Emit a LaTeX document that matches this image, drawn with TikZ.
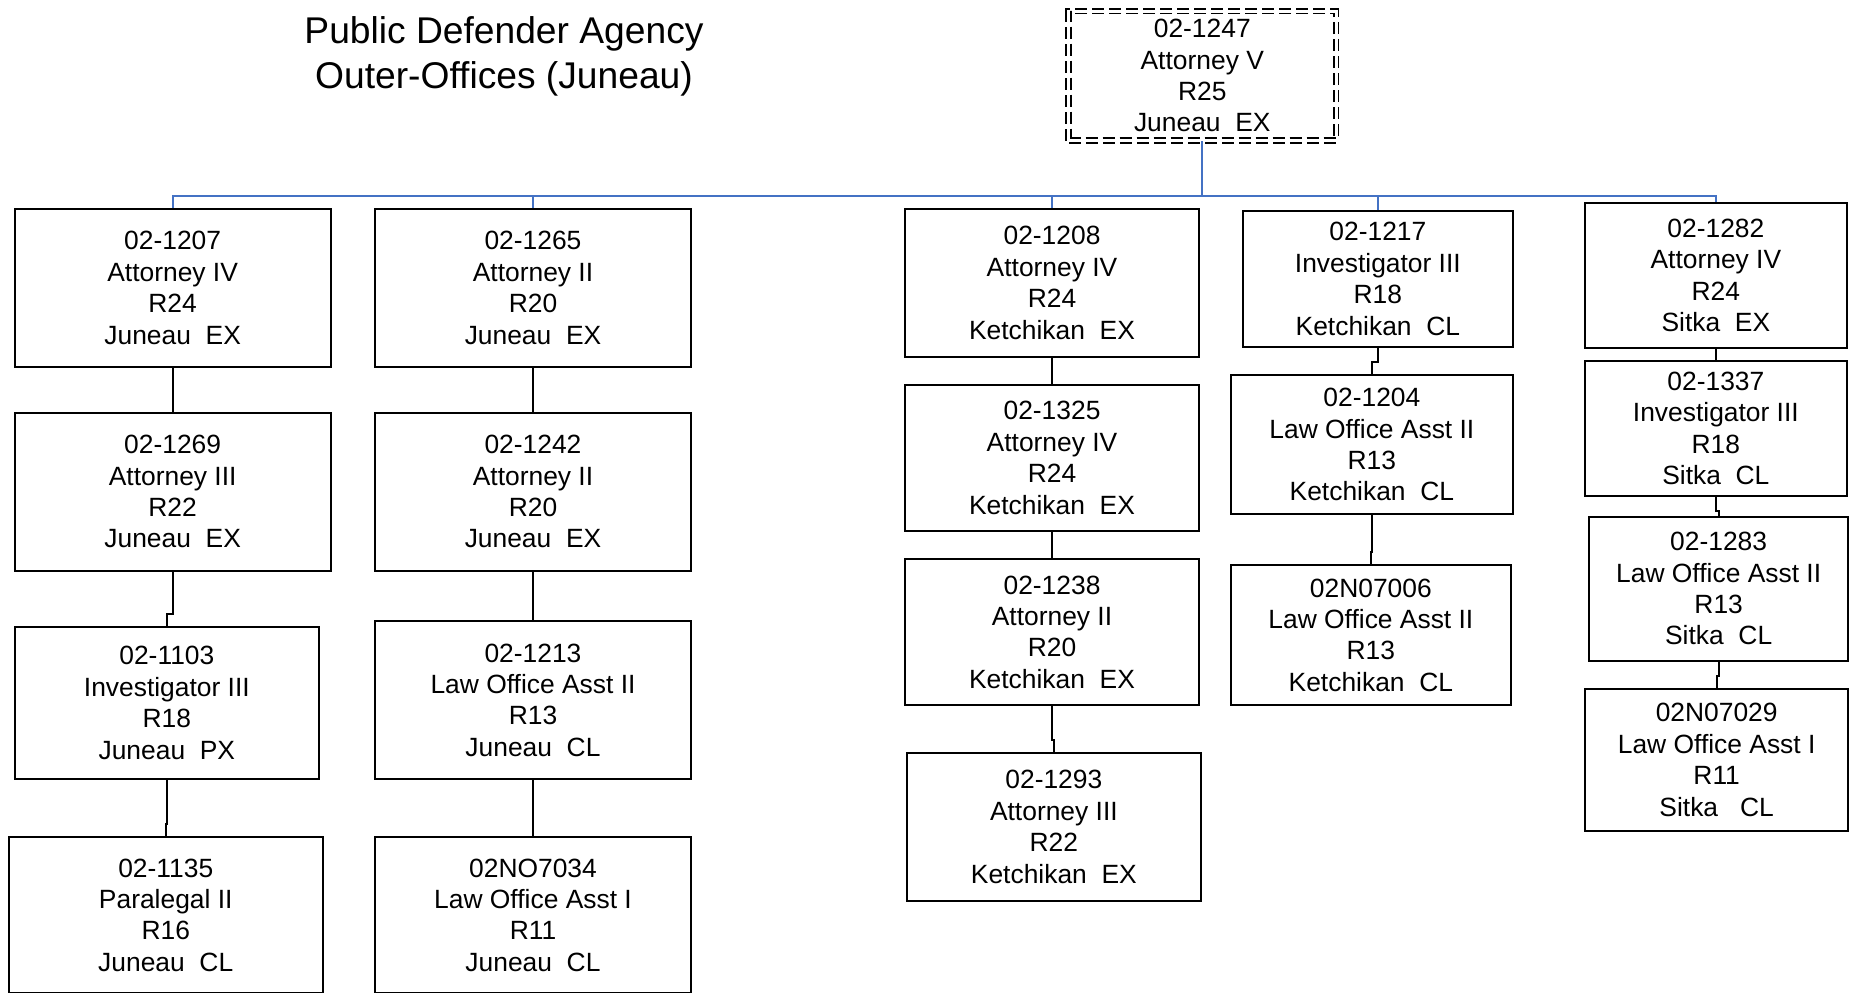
\documentclass[tikz,border=0pt]{standalone}
\usepackage{fontspec}
\setmainfont{Liberation Sans}
\usetikzlibrary{calc}
\definecolor{busblue}{RGB}{68,114,196}
\tikzset{
  posbox/.style={draw=black, line width=1pt, inner sep=0pt, align=center,
    font=\fontsize{13.2}{15.7}\selectfont},
  topbox/.style={draw=black, line width=0.8pt, double, double distance=1.5pt,
    dash pattern=on 6pt off 2.5pt, inner sep=0pt, align=center,
    font=\fontsize{13.2}{15.7}\selectfont},
  link/.style={draw=black, line width=1pt},
  buslink/.style={draw=busblue, line width=1pt},
  titlestyle/.style={align=center, inner sep=0pt,
    font=\fontsize{18.6}{22.4}\selectfont}
}
\newcommand{\pbox}[6]{% name, cx, cy, w, h, text
  \node[posbox, minimum width=#4*0.5pt, minimum height=#5*0.5pt] (#1) at (#2,#3) {#6};}
\newcommand{\jog}[2]{\draw[link] (#1.south) |- ($(#2.north)+(0,-12)$) -- (#2.north);}
\begin{document}
\begin{tikzpicture}[x=0.5pt, y=-0.5pt]
\useasboundingbox (0,0) rectangle (1850,992);
\fill[white] (0,0) rectangle (1850,992);

\node[titlestyle] (title) at (504,56) {Public Defender Agency\\Outer-Offices (Juneau)};

\node[topbox, minimum width=267.5*0.5pt, minimum height=129.5*0.5pt] (n1247) at (1202.25,75.75)
  {02-1247\\Attorney V\\R25\\Juneau\ \ EX};

% column 1
\pbox{n1207}{172.65}{288}{316}{158}{02-1207\\Attorney IV\\R24\\Juneau\ \ EX}
\pbox{n1269}{172.65}{491.7}{316}{158}{02-1269\\Attorney III\\R22\\Juneau\ \ EX}
\pbox{n1103}{166.85}{702.85}{304.3}{152.3}{02-1103\\Investigator III\\R18\\Juneau\ \ PX}
\pbox{n1135}{165.75}{915}{314}{156.6}{02-1135\\Paralegal II\\R16\\Juneau\ \ CL}
% column 2
\pbox{n1265}{533}{288}{316}{158}{02-1265\\Attorney II\\R20\\Juneau\ \ EX}
\pbox{n1242}{533}{491.7}{316}{158}{02-1242\\Attorney II\\R20\\Juneau\ \ EX}
\pbox{n1213}{533}{700}{316}{158}{02-1213\\Law Office Asst II\\R13\\Juneau\ \ CL}
\pbox{n7034}{533}{915}{316}{156.6}{02NO7034\\Law Office Asst I\\R11\\Juneau\ \ CL}
% column 3
\pbox{n1208}{1052}{282.85}{294}{147.7}{02-1208\\Attorney IV\\R24\\Ketchikan\ \ EX}
\pbox{n1325}{1052}{457.85}{294}{145.7}{02-1325\\Attorney IV\\R24\\Ketchikan\ \ EX}
\pbox{n1238}{1052}{632}{294}{146}{02-1238\\Attorney II\\R20\\Ketchikan\ \ EX}
\pbox{n1293}{1053.85}{826.85}{294.3}{148.3}{02-1293\\Attorney III\\R22\\Ketchikan\ \ EX}
% column 4
\pbox{n1217}{1377.85}{278.85}{270.3}{135.7}{02-1217\\Investigator III\\R18\\Ketchikan\ \ CL}
\pbox{n1204}{1371.85}{444.65}{282.3}{139.3}{02-1204\\Law Office Asst II\\R13\\Ketchikan\ \ CL}
\pbox{n7006}{1370.85}{635}{280.3}{140}{02N07006\\Law Office Asst II\\R13\\Ketchikan\ \ CL}
% column 5
\pbox{n1282}{1715.85}{275.5}{261.7}{144.4}{02-1282\\Attorney IV\\R24\\Sitka\ \ EX}
\pbox{n1337}{1715.85}{428.5}{261.7}{135}{02-1337\\Investigator III\\R18\\Sitka\ \ CL}
\pbox{n1283}{1718.65}{588.7}{259.3}{144}{02-1283\\Law Office Asst II\\R13\\Sitka\ \ CL}
\pbox{n7029}{1716.65}{759.85}{263.3}{141.7}{02N07029\\Law Office Asst I\\R11\\Sitka\ \ \ CL}

% bus
\coordinate (bus) at (1202.25,196);
\draw[buslink] (n1247.south) -- (bus);
\draw[buslink] (n1207.north) |- (bus) -| (n1282.north);
\draw[buslink] (n1265.north) -- (n1265.north |- bus);
\draw[buslink] (n1208.north) -- (n1208.north |- bus);
\draw[buslink] (n1217.north) -- (n1217.north |- bus);

% column links
\jog{n1207}{n1269}
\jog{n1269}{n1103}
\jog{n1103}{n1135}
\jog{n1265}{n1242}
\jog{n1242}{n1213}
\jog{n1213}{n7034}
\jog{n1208}{n1325}
\jog{n1325}{n1238}
\jog{n1238}{n1293}
\jog{n1217}{n1204}
\jog{n1204}{n7006}
\jog{n1282}{n1337}
\draw[link] (n1337.south) |- ($(n1283.north)+(0,-5)$) -- (n1283.north);
\jog{n1283}{n7029}
\end{tikzpicture}
\end{document}
